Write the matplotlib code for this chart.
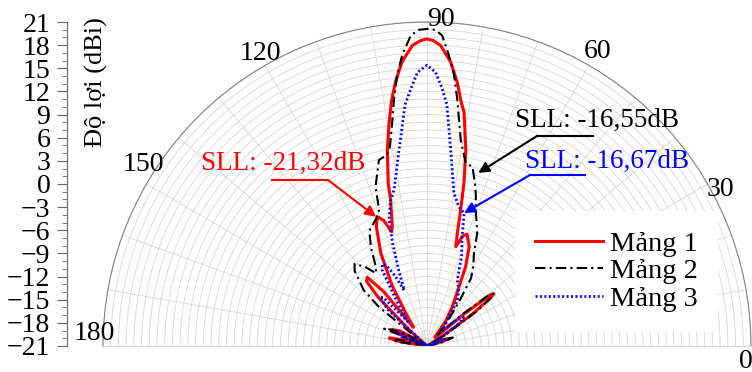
import numpy as np
import matplotlib
matplotlib.use('Agg')
import matplotlib.pyplot as plt
from matplotlib.lines import Line2D
from matplotlib.ticker import MultipleLocator

plt.rcParams['font.family'] = ['Liberation Serif', 'DejaVu Serif']

# Mảng 1 (red) - angle in degrees, gain in dBi
ang1 = [0, 12, 16, 19, 22, 26, 32, 35, 37, 38, 39, 41, 44, 48, 53, 57, 61, 64, 67,
        70.3, 72, 73.8, 75.0, 76.1, 77.2, 78.8, 81.0, 82.0, 83.45, 85.2, 87.4, 88.8,
        90, 91.2, 92.8, 95.0, 96.8, 98.3, 99.8, 101.45, 103.4, 104, 106.2, 107.2, 109,
        111, 113, 116.5, 120, 123, 126, 128.5, 131, 133, 135, 138, 142, 147, 151, 155,
        158, 162, 165, 168, 171, 175, 180]
gain1 = [-21, -21, -19, -18, -19, -21, -19, -14, -10.8, -10, -10.5, -15, -19, -19.5,
         -17, -15, -12.8, -9.6, -7, -5.6, -6, -7.6, -5.8, -2.8, 0.6, 4.9, 9.7, 10.9,
         13.4, 15.9, 18.0, 18.6, 18.8, 18.6, 18.0, 16.0, 13.5, 11.0, 8.0, 4.9, 0.7,
         -1.5, -4.9, -5.5, -3.8, -3.05, -4.2, -7.6, -12, -16, -18, -12, -9.2, -9.5,
         -12, -18, -21, -20, -17, -16, -18, -21, -18, -16, -17.5, -21, -21]

# Mảng 2 (black)
ang2 = [0, 10, 14, 18, 22, 27, 32, 35, 37, 38, 39.5, 42, 46, 50, 54, 57, 60, 63, 66,
        68.5, 70.3, 72, 73.6, 75.8, 78.0, 80.7, 83.0, 84.3, 85.7, 87.2, 88.5, 90,
        91.5, 93.0, 94.9, 96.3, 97.6, 99, 100.8, 102, 104.5, 107.9, 109.4, 112, 116.6,
        119.6, 122.9, 125, 128, 131.4, 134, 136, 138.5, 141, 145, 150, 155, 158, 162,
        166, 169, 172, 176, 180]
gain2 = [-21, -21, -19, -17.5, -18.5, -21, -18, -13, -10.5, -10, -10.5, -15, -19, -17,
         -14, -10.5, -9, -7.6, -5, -3.5, -2.3, -0.5, 1.0, 3.0, 3.2, 6.05, 11.2, 14.3,
         16.8, 19.3, 20.0, 20.1, 20.0, 19.3, 16.8, 14.3, 11.3, 8.0, 4.9, 4.3, 3.9, 0.7,
         -2.3, -3.3, -4.3, -6.3, -8.8, -9.5, -8, -6.8, -7.5, -8.8, -10, -13, -21, -18,
         -16, -15, -21, -18, -16.5, -17, -21, -21]

# Mảng 3 (blue)
ang3 = [0, 15, 19, 23, 30, 35, 38, 41, 45, 50, 56, 61, 65.3, 69, 72.1, 74.4, 77.1, 80,
        83.1, 85.3, 86.6, 88.2, 90, 92, 93.6, 95.2, 98.1, 101.9, 104, 106.8, 108.5,
        110.5, 112.3, 114.5, 116.5, 118.4, 120.5, 124, 128, 132, 134, 137, 142, 150,
        155, 160, 166, 180]
gain3 = [-21, -21, -18.5, -21, -19, -16, -15, -15.5, -18, -17.5, -14, -12.5, -11.6,
         -8.5, -6.2, -3.1, -2.5, -0.9, 4.6, 10.4, 12.4, 14.5, 15.4, 14.5, 12.4, 10.4,
         4.7, -0.3, -1.5, -4, -7, -10.5, -13.2, -11, -9.5, -8.9, -9.5, -14, -17, -12.5,
         -12.2, -14, -21, -21, -17, -17.5, -21, -21]

labels = ['Mảng 1', 'Mảng 2', 'Mảng 3']
theta_labels = ['0', '30', '60', '90', '120', '150', '180']

W, H = 752, 372
fig = plt.figure(figsize=(W / 100, H / 100), dpi=100)

cx, cy, R = 427, 346, 324
# the half-disk is drawn centred in the axes box at half its size,
# so give a box twice as big centred on the half-disk's bounding box
mid_y = cy - R / 2
ax = fig.add_axes([(cx - 2 * R) / W, 1 - (mid_y + R) / H, 4 * R / W, 2 * R / H],
                  projection='polar')
ax.set_thetamin(0)
ax.set_thetamax(180)
ax.set_rlim(-21, 21)
ax.set_xticks(np.deg2rad(np.arange(0, 181, 10)))
ax.set_xticklabels([])
ax.set_yticks(np.arange(-21, 22, 1))
ax.set_yticklabels([])
ax.grid(True, color='#d6d6d6', lw=0.6)
ax.spines['polar'].set_color('#808080')
ax.spines['start'].set_color('#d6d6d6')
ax.spines['end'].set_color('#d6d6d6')
ax.tick_params(axis='x', direction='in', length=5, color='#808080')
ax.tick_params(axis='y', length=0)

l1, = ax.plot(np.deg2rad(ang1), gain1, color='red', lw=2.2)
l2, = ax.plot(np.deg2rad(ang2), gain2, color='black', lw=1.5, ls=(0, (5, 2, 1, 2)))
l3, = ax.plot(np.deg2rad(ang3), gain3, color='blue', lw=2.0, ls=(0, (0.7, 0.9)))

# left gain axis
lax = fig.add_axes([67 / W, 1 - cy / H, 0.0001, R / H])
lax.set_ylim(-21, 21)
lax.yaxis.set_major_locator(MultipleLocator(3))
lax.yaxis.set_minor_locator(MultipleLocator(1))
lax.set_xticks([])
lax.patch.set_visible(False)
for s in ['right', 'top', 'bottom']:
    lax.spines[s].set_visible(False)
lax.spines['left'].set_color('#666666')
lax.tick_params(axis='y', which='major', length=7, color='#666666', labelsize=20, pad=5)
lax.tick_params(axis='y', which='minor', length=3.5, color='#666666')
fig.text(96 / W, 1 - 82 / H, 'Độ lợi (dBi)', rotation=90, fontsize=19,
         ha='center', va='center')

# angle labels
label_pos = [(746, 361), (720, 190), (598, 52), (441, 20), (260, 54), (143, 164), (94, 334)]
for t, (x, y) in zip(theta_labels, label_pos):
    fig.text(x / W, 1 - y / H, t, fontsize=20, ha='center', va='center')

# SLL annotations
def note(text, color, tx, ty, ux0, ux1, uy, ax_from, tip):
    fig.text(tx / W, 1 - ty / H, text, color=color, fontsize=19.5, ha='center', va='baseline')
    fig.add_artist(Line2D([ux0 / W, ux1 / W], [1 - uy / H] * 2, transform=fig.transFigure,
                          color=color, lw=1.5))
    ax.annotate('', xy=(np.deg2rad(tip[0]), tip[1]), xycoords='data',
                xytext=(ax_from, H - uy), textcoords='figure pixels',
                arrowprops=dict(arrowstyle='-|>', color=color, lw=1.5,
                                mutation_scale=16, shrinkA=0, shrinkB=0))

note('SLL: -21,32dB', 'red', 283, 170, 272, 328, 180, 328, (111.5, -3.0))
note('SLL: -16,55dB', 'black', 597, 127, 537, 593, 136, 537, (73.5, 2.4))
note('SLL: -16,67dB', 'blue', 607, 168, 530, 585, 175, 530, (74.4, -3.1))

leg = fig.legend([l1, l2, l3], labels, loc='upper left',
                 bbox_to_anchor=(515 / W, 1 - 211 / H), fontsize=20.5,
                 handlelength=2.4, handletextpad=0.25, labelspacing=0.05,
                 borderpad=0.7, borderaxespad=0, frameon=True, fancybox=False,
                 framealpha=1, facecolor='white', edgecolor='none')

fig.savefig('out.png', dpi=100)
